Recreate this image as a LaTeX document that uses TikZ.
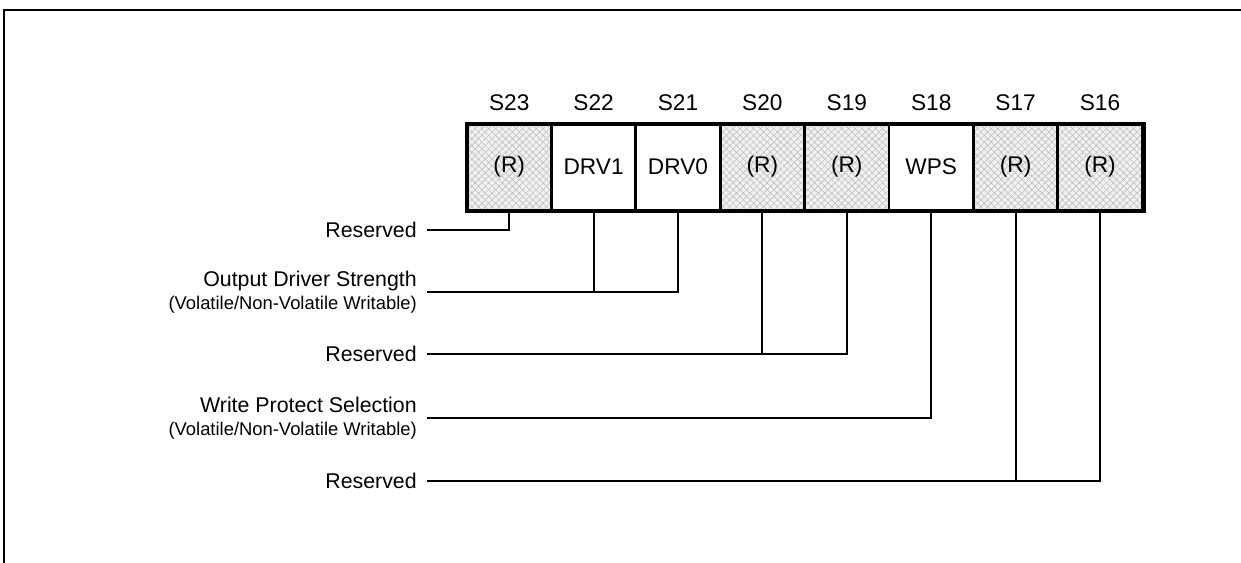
\documentclass[tikz,border=0pt]{standalone}
\usepackage{fontspec}
\setmainfont{Liberation Sans}
\usetikzlibrary{patterns.meta}

\newcommand{\subtxt}{\fontsize{13.8}{17}\selectfont}

\tikzset{
    cell/.style={draw, line width=2.2pt, minimum width=63.3pt, minimum height=64.5pt,
        inner sep=0pt, font=\fontsize{17}{20}\selectfont},
    rescell/.style={cell, preaction={fill=gray!12},
        pattern={Hatch[angle=45, distance=3.6pt, line width=0.35pt]}, pattern color=gray!55},
    bitname/.style={font=\fontsize{17}{20}\selectfont},
    fieldlbl/.style={anchor=east, align=right, inner xsep=7.5pt, inner ysep=0pt,
        font=\fontsize{16}{18}\selectfont},
    wire/.style={line width=1.6pt}
}

\begin{document}
\begin{tikzpicture}[x=0.75pt, y=-0.75pt]
    \useasboundingbox (0,0) rectangle (1241,563);

    % Rahmen
    \draw[line width=1.6pt] (4,563) -- (4,10) -- (1241,10);

    % Bits S23..S16
    \foreach \n/\i in {23/0, 20/3, 19/4, 17/6, 16/7}
        \node[rescell] (s\n) at ({509.2+84.4*\i}, 167) {(R)};
    \foreach \n/\t/\i in {22/DRV1/1, 21/DRV0/2, 18/WPS/5}
        \node[cell] (s\n) at ({509.2+84.4*\i}, 167) {\t};
    \foreach \n/\i in {23/0, 22/1, 21/2, 20/3, 19/4, 18/5, 17/6, 16/7}
        \node[bitname] (h\n) at ({509.2+84.4*\i}, 103) {S\n};
    \draw[line width=3pt] (s23.north west) rectangle (s16.south east);

    % Beschriftungen
    \node[fieldlbl] (res1) at (427, 230) {Reserved};
    \node[fieldlbl] (ods) at (427, 292) {Output Driver Strength\\[-1pt]{\subtxt (Volatile/Non-Volatile Writable)}};
    \node[fieldlbl] (res2) at (427, 354) {Reserved};
    \node[fieldlbl] (wps) at (427, 418) {Write Protect Selection\\[-1pt]{\subtxt (Volatile/Non-Volatile Writable)}};
    \node[fieldlbl] (res3) at (427, 481) {Reserved};

    % Verbindungen
    \draw[wire] (res1.east) -| (s23.south);
    \draw[wire] (ods.east) -| (s21.south);
    \draw[wire] (s22.south) -- (s22.south |- ods.east);
    \draw[wire] (res2.east) -| (s19.south);
    \draw[wire] (s20.south) -- (s20.south |- res2.east);
    \draw[wire] (wps.east) -| (s18.south);
    \draw[wire] (res3.east) -| (s16.south);
    \draw[wire] (s17.south) -- (s17.south |- res3.east);
\end{tikzpicture}
\end{document}
